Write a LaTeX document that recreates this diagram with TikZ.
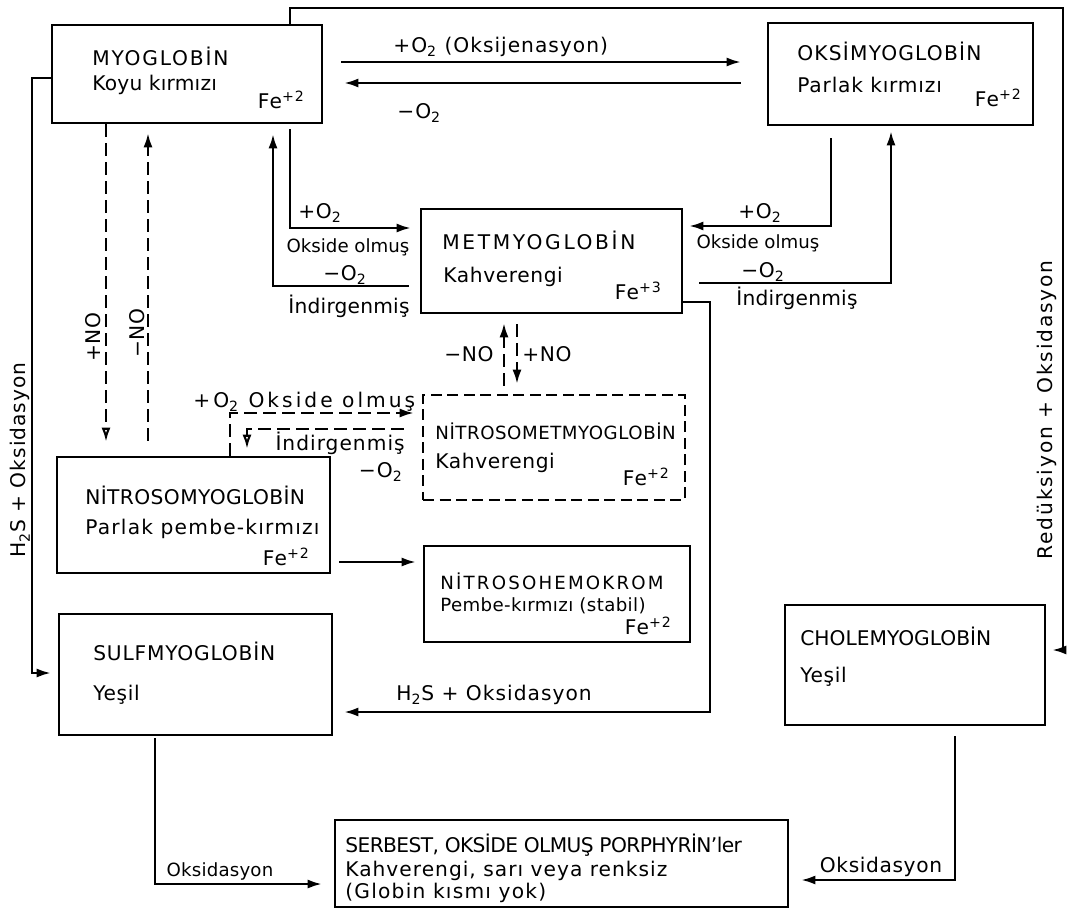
\documentclass[tikz,border=0pt]{standalone}
\usepackage{fontspec}
\setmainfont{DejaVu Sans}[Scale=1.15]
\usetikzlibrary{arrows.meta,fit}

\begin{document}
\begin{tikzpicture}[
  x=0.02cm, y=-0.02cm,
  box/.style={draw=black, line width=1.5pt, inner sep=0pt},
  dbox/.style={box, dash pattern=on 2.2mm off 1.1mm},
  flow/.style={draw=black, line width=1.2pt, -{Latex[length=2.8mm,width=1.8mm]}},
  dflow/.style={flow, dash pattern=on 2.6mm off 1.2mm},
  oflow/.style={dflow, -{Latex[open,length=2.8mm,width=1.8mm]}},
  tl/.style={inner sep=0pt, anchor=base west, font=\addfontfeatures{LetterSpace=#1}},
  tl/.default=3,
  stl/.style={inner sep=0pt, anchor=base west, font=\small\addfontfeatures{LetterSpace=#1}},
  lb/.style={inner sep=0pt, anchor=base, font=\addfontfeatures{LetterSpace=#1}},
  lb/.default=5,
  vl/.style={inner sep=0pt, rotate=90, font=\addfontfeatures{LetterSpace=#1}},
  fe/.style={inner sep=0pt, anchor=base east, font=\addfontfeatures{LetterSpace=6}}]

  \useasboundingbox (0,0) rectangle (1067,913);

  % boxes
  \node[box, fit={(52,25) (322,123)}] (myo) {};
  \node[box, fit={(768,23) (1033,125)}] (oksi) {};
  \node[box, fit={(421,209) (682,313)}] (met) {};
  \node[dbox, fit={(423,395) (685,500)}] (nmet) {};
  \node[box, fit={(57,457) (330,573)}] (nmyo) {};
  \node[box, fit={(424,546) (690,642)}] (nhem) {};
  \node[box, fit={(59,614) (332,735)}] (sulf) {};
  \node[box, fit={(785,605) (1045,725)}] (chole) {};
  \node[box, fit={(335,820) (788,907)}] (serb) {};

  \node[tl=9] (myo-n) at (92,65) {MYOGLOBİN};
  \node[tl=1] (myo-c) at (92,90) {Koyu kırmızı};
  \node[fe] (myo-fe) at (305,108) {Fe\textsuperscript{+2}};

  \node[tl=6] (oksi-n) at (797,60) {OKSİMYOGLOBİN};
  \node[tl=4] (oksi-c) at (797,92) {Parlak kırmızı};
  \node[fe] (oksi-fe) at (1022,106) {Fe\textsuperscript{+2}};

  \node[tl=13] (met-n) at (442,249) {METMYOGLOBİN};
  \node[tl] (met-c) at (443,282) {Kahverengi};
  \node[fe] (met-fe) at (662,299) {Fe\textsuperscript{+3}};

  \node[stl=3] (nmet-n) at (435,439) {NİTROSOMETMYOGLOBİN};
  \node[tl] (nmet-c) at (435,468) {Kahverengi};
  \node[fe] (nmet-fe) at (670,485) {Fe\textsuperscript{+2}};

  \node[tl=2] (nmyo-n) at (85,504) {NİTROSOMYOGLOBİN};
  \node[tl=6] (nmyo-c) at (85,534) {Parlak pembe-kırmızı};
  \node[fe] (nmyo-fe) at (310,565) {Fe\textsuperscript{+2}};

  \node[stl=12] (nhem-n) at (440,589) {NİTROSOHEMOKROM};
  \node[stl=2] (nhem-c) at (440,611) {Pembe-kırmızı (stabil)};
  \node[fe] (nhem-fe) at (672,634) {Fe\textsuperscript{+2}};

  \node[tl=4] (sulf-n) at (93,660) {SULFMYOGLOBİN};
  \node[tl] (sulf-c) at (93,700) {Yeşil};

  \node[tl=0] (chole-n) at (800,645) {CHOLEMYOGLOBİN};
  \node[tl] (chole-c) at (800,682) {Yeşil};

  \node[tl=-3] (serb-n) at (345,852) {SERBEST, OKSİDE OLMUŞ PORPHYRİN'ler};
  \node[tl=5] (serb-c) at (345,876) {Kahverengi, sarı veya renksiz};
  \node[tl=6] (serb-g) at (345,898) {(Globin kısmı yok)};

  % oxygenation
  \draw[flow, shorten <=3.6mm, shorten >=5.2mm] (myo.east |- 0,62) -- (oksi.west |- 0,62);
  \draw[flow, shorten <=5.2mm, shorten >=4.2mm] (oksi.west |- 0,83) -- (myo.east |- 0,83);
  \node[lb, anchor=base west] (l-oxy) at (393,52) {+O\textsubscript{2} (Oksijenasyon)};
  \node[lb, anchor=base west] (l-deoxy) at (397,118) {−O\textsubscript{2}};

  % myoglobin <-> metmyoglobin
  \draw[flow, shorten <=1mm, shorten >=1.8mm] (myo.south -| 290,0) |- (met.west |- 0,228);
  \draw[flow, shorten <=2.2mm, shorten >=2mm] (met.west |- 0,286) -| (myo.south -| 273,0);
  \node[lb=3] (l-lo2) at (320,218) {+O\textsubscript{2}};
  \node[lb, font=\small] (l-lox) at (348,252) {Okside olmuş};
  \node[lb=3] (l-lr2) at (345,280) {−O\textsubscript{2}};
  \node[lb=1] (l-lred) at (349,313) {İndirgenmiş};

  % oksimyoglobin <-> metmyoglobin
  \draw[flow, shorten <=2.4mm, shorten >=1.2mm] (oksi.south -| 831,0) |- (met.east |- 0,226);
  \draw[flow, shorten <=3.2mm, shorten >=1mm] (met.east |- 0,283) -| (oksi.south -| 891,0);
  \node[lb=3] (l-ro2) at (760,218) {+O\textsubscript{2}};
  \node[lb, font=\small] (l-rox) at (758,248) {Okside olmuş};
  \node[lb=3] (l-rr2) at (763,277) {−O\textsubscript{2}};
  \node[lb=1] (l-rred) at (797,305) {İndirgenmiş};

  % sulfmyoglobin
  \draw[flow, shorten >=1.4mm] (myo.west |- 0,78) -| (32,673) -- (sulf.west |- 0,673);
  \node[vl=5] (l-h2s) at (20,460) {H\textsubscript{2}S + Oksidasyon};
  \draw[flow, shorten >=2.2mm] (met.east |- 0,302) -| (710,712) -- (sulf.east |- 0,712);
  \node[lb] (l-h2s2) at (494,700) {H\textsubscript{2}S + Oksidasyon};

  % cholemyoglobin
  \draw[flow, shorten >=1.2mm] (myo.north -| 290,0) |- (1063,8) |- (chole.east |- 0,650);
  \node[vl=9] (l-red) at (1047,410) {Redüksiyon + Oksidasyon};

  % porphyrins
  \draw[flow, shorten <=0.4mm, shorten >=2.4mm] (sulf.south -| 155,0) |- (serb.west |- 0,884);
  \node[lb, font=\small\addfontfeatures{LetterSpace=1}] (l-soks) at (220,876) {Oksidasyon};
  \draw[flow, shorten <=2mm, shorten >=2.4mm] (chole.south -| 955,0) |- (serb.east |- 0,880);
  \node[lb=3] (l-coks) at (881,872) {Oksidasyon};

  % nitric oxide
  \draw[oflow, shorten >=2.8mm] (myo.south -| 106,0) -- (nmyo.north -| 106,0);
  \draw[dflow, shorten <=3mm, shorten >=1.8mm] (nmyo.north -| 148,0) -- (myo.south -| 148,0);
  \node[vl=3] (l-pno) at (93,337) {+NO};
  \node[vl=3] (l-mno) at (137,333) {−NO};
  \draw[dflow, shorten <=1.6mm, shorten >=1.8mm] (nmet.north -| 504,0) -- (met.south -| 504,0);
  \draw[dflow, shorten <=2mm, shorten >=2mm] (met.south -| 517,0) -- (nmet.north -| 517,0);
  \node[lb=3] (l-mno2) at (469,361) {−NO};
  \node[lb=3] (l-pno2) at (547,361) {+NO};

  \draw[dflow, shorten >=1.6mm] (nmyo.north -| 230,0) |- (nmet.west |- 0,413);
  \draw[oflow, shorten <=3.6mm, shorten >=1.4mm] (nmet.west |- 0,429) -| (nmyo.north -| 247,0);
  \node[lb=15, anchor=base west] (l-nox) at (193,407) {+O\textsubscript{2} Okside olmuş};
  \node[lb, anchor=base east] (l-nred) at (405,450) {İndirgenmiş};
  \node[lb, anchor=base east] (l-nr2) at (403,477) {−O\textsubscript{2}};

  \draw[flow, shorten <=1.6mm, shorten >=1.4mm] (nmyo.east |- 0,562) -- (nhem.west |- 0,562);
\end{tikzpicture}
\end{document}
